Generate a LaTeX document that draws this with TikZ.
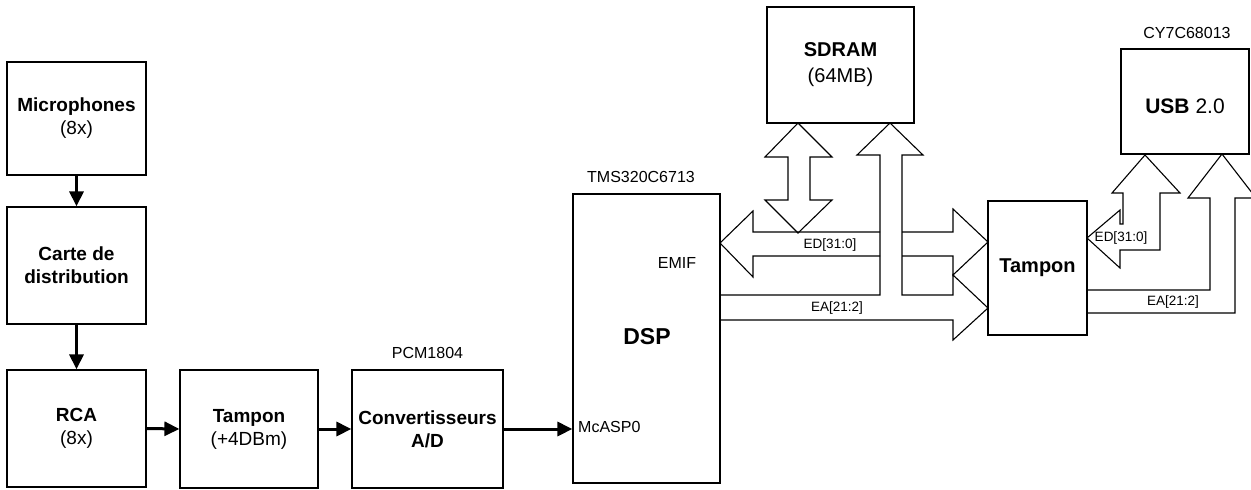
\documentclass[tikz,border=0pt]{standalone}
\usepackage{fontspec}
\setmainfont{Liberation Sans}
\usetikzlibrary{arrows.meta}
\begin{document}
\begin{tikzpicture}[x=1pt,y=-1pt,
  box/.style={draw, line width=1.2pt, inner sep=0pt, align=center,
    font=\fontsize{19}{23}\selectfont},
  bus/.style={draw, line width=1.1pt, line join=miter},
  flow/.style={line width=3pt, -{Triangle[length=15pt,width=14pt]}},
  tag/.style={inner sep=0pt, font=\fontsize{16}{18}\selectfont},
  buslabel/.style={inner sep=0pt, font=\fontsize{13.5}{15}\selectfont}]
\clip (0,0) rectangle (1251,490);
\fill[white] (0,0) rectangle (1251,490);

% audio acquisition chain
\node[box, minimum width=139pt, minimum height=113pt] (mic) at (76.5,118.5)
  {\textbf{Microphones}\\(8x)};
\node[box, minimum width=139pt, minimum height=117pt] (carte) at (76.5,265.5)
  {\textbf{Carte de}\\\textbf{distribution}};
\node[box, minimum width=139pt, minimum height=117pt] (rca) at (76.5,428.5)
  {\textbf{RCA}\\(8x)};
\node[box, minimum width=138pt, minimum height=118pt] (tamp1) at (249,429)
  {\textbf{Tampon}\\(+4DBm)};
\node[box, minimum width=151pt, minimum height=118pt] (conv) at (427.5,429)
  {\textbf{Convertisseurs}\\\textbf{A/D}};
\node[tag] (pcm) at (427.5,353) {PCM1804};

% processor
\node[box, minimum width=147pt, minimum height=289pt] (dsp) at (646.5,338.5) {};
\node[tag] (tms) at (641,177) {TMS320C6713};
\node[tag] (emif) at (677,263) {EMIF};
\node[inner sep=0pt, font=\fontsize{23}{26}\selectfont\bfseries] (dsplbl) at (647,337) {DSP};
\node[tag, anchor=west] (mcasp) at (578,427) {McASP0};

% memory, buffer and USB
\node[box, minimum width=147pt, minimum height=116pt, font=\fontsize{20}{26}\selectfont]
  (sdram) at (840.5,65) {\textbf{SDRAM}\\(64MB)};
\node[box, minimum width=128pt, minimum height=105pt] (usb) at (1185,101.5) {};
\node[inner sep=0pt, font=\fontsize{21}{24}\selectfont] (usblbl) at (1185,106) {\textbf{USB} 2.0};
\node[tag] (cy) at (1187,33) {CY7C68013};
\node[box, minimum width=99pt, minimum height=134pt, font=\fontsize{20}{24}\selectfont]
  (tamp2) at (1037.5,268) {\textbf{Tampon}};

% signal flow
\draw[flow] (mic.south) -- (carte.north);
\draw[flow] (carte.south) -- (rca.north);
\draw[flow] (rca.east) -- (tamp1.west);
\draw[flow] (tamp1.east) -- (conv.west);
\draw[flow] (conv.east) -- (conv.east -| dsp.west);

% data bus ED[31:0], DSP <-> buffer
\draw[bus] (880,232) -- (753,232) -- (753,211) -- (720,243) -- (753,277)
  -- (753,256) -- (880,256);
\draw[bus] (902,232) -- (953,232) -- (953,209) -- (988,242) -- (953,275)
  -- (953,256) -- (902,256);
% address bus EA[21:2], DSP -> buffer and SDRAM
\draw[bus] (720,295) -- (880,295) -- (880,155) -- (857,155) -- (890,123)
  -- (923,155) -- (902,155) -- (902,295) -- (953,295) -- (953,275)
  -- (988,308) -- (953,340) -- (953,320) -- (720,320);
% data bus, SDRAM <-> ED
\draw[bus] (798,123) -- (765,157) -- (788,157) -- (788,200) -- (765,200)
  -- (798,233) -- (832,200) -- (810,200) -- (810,157) -- (832,157) -- cycle;
% buffer <-> USB data bus
\draw[bus] (1087,238) -- (1120,210) -- (1120,224) -- (1123,224) -- (1123,193)
  -- (1112,193) -- (1145,155) -- (1180,193) -- (1160,193) -- (1160,250)
  -- (1120,250) -- (1120,268) -- cycle;
% buffer -> USB address bus
\draw[bus] (1087,290) -- (1210,290) -- (1210,198) -- (1188,198) -- (1222,154)
  -- (1256,198) -- (1235,198) -- (1235,313) -- (1087,313);

\node[buslabel] (edl) at (830,245) {ED[31:0]};
\node[buslabel] (eal) at (837,308) {EA[21:2]};
\node[buslabel] (edr) at (1121,238) {ED[31:0]};
\node[buslabel] (ear) at (1173,302) {EA[21:2]};
\end{tikzpicture}
\end{document}
